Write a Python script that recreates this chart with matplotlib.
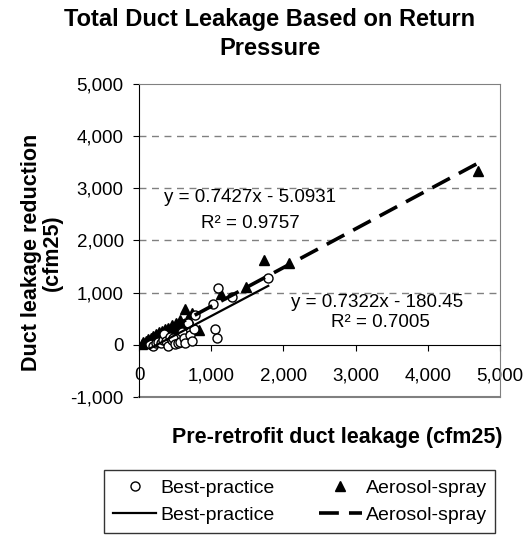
import matplotlib
matplotlib.use('Agg')
import matplotlib.pyplot as plt
from matplotlib.lines import Line2D

plt.rcParams['font.family'] = ['Liberation Sans', 'DejaVu Sans']

# best-practice retrofits (open circles)
bp_pre = [150, 200, 230, 260, 300, 330, 350, 380, 400, 430, 450, 470, 500, 540, 570,
          600, 620, 640, 680, 700, 730, 760, 775, 1025, 1050, 1080, 1095, 1290, 1790]
bp_red = [10, -20, 40, 60, 30, 90, 200, 70, -30, 150, 90, 130, 20, 40, 60,
          250, 130, 40, 420, 180, 75, 300, 575, 790, 310, 135, 1095, 925, 1290]

# aerosol-spray retrofits (filled triangles)
as_pre = [40, 60, 80, 100, 110, 130, 150, 170, 190, 200, 220, 240, 260, 280, 300, 320,
          340, 360, 380, 400, 430, 460, 480, 510, 540, 570, 600, 640, 680, 735, 830,
          1135, 1480, 1730, 2080, 4690]
as_red = [20, 50, 30, 80, 60, 120, 90, 140, 110, 170, 150, 200, 180, 240, 200, 260,
          230, 300, 250, 320, 290, 380, 330, 420, 360, 470, 400, 690, 520, 615, 290,
          980, 1100, 1635, 1560, 3340]

# linear trend lines as reported on the chart
bp_slope, bp_icpt, bp_r2 = 0.7322, -180.45, 0.7005
as_slope, as_icpt, as_r2 = 0.7427, -5.0931, 0.9757

x_ticks = [0, 1000, 2000, 3000, 4000, 5000]
y_ticks = [-1000, 0, 1000, 2000, 3000, 4000, 5000]

grey = '#808080'

fig = plt.figure(figsize=(5.29, 5.39), dpi=100)
ax = fig.add_axes([0.2628, 0.2635, 0.6824, 0.5807])

# gridlines
for yv in y_ticks[2:-1]:
    ax.axhline(yv, color=grey, lw=1, dashes=(5, 4), zorder=0)

ax.plot(as_pre, as_red, linestyle='none', marker='^', ms=6.5, color='black', zorder=3)
ax.plot(bp_pre, bp_red, linestyle='none', marker='o', ms=6.5, mfc='white', mec='black',
        mew=1, zorder=4)

bx = [min(bp_pre), max(bp_pre)]
ax.plot(bx, [bp_slope * v + bp_icpt for v in bx], color='black', lw=1.6, zorder=5)
axx = [min(as_pre), max(as_pre)]
ax.plot(axx, [as_slope * v + as_icpt for v in axx], color='black', lw=2.6,
        dashes=(5.5, 2.8), zorder=5)

ax.text(1540, 2830, 'y = %.4fx - %.4f' % (as_slope, -as_icpt), ha='center', va='center', fontsize=13.5)
ax.text(1540, 2330, 'R² = %.4f' % as_r2, ha='center', va='center', fontsize=13.5)
ax.text(3300, 810, 'y = %.4fx - %.2f' % (bp_slope, -bp_icpt), ha='center', va='center', fontsize=13.5)
ax.text(3340, 420, 'R² = %.4f' % bp_r2, ha='center', va='center', fontsize=13.5)

ax.set_xlim(0, 5000)
ax.set_ylim(-1000, 5000)
ax.spines['bottom'].set_position(('data', 0))
ax.spines['left'].set_color('black')
ax.spines['bottom'].set_color('black')
ax.spines['top'].set_color(grey)
ax.spines['right'].set_color(grey)
ax.axhline(-1000, color=grey, lw=1.5, clip_on=False)

ax.set_xticks(x_ticks)
ax.set_xticklabels(['{:,}'.format(v) for v in x_ticks])
ax.set_yticks(y_ticks)
ax.set_yticklabels(['{:,}'.format(v) for v in y_ticks])
ax.tick_params(axis='x', direction='out', length=4, pad=12, labelsize=13.5)
ax.tick_params(axis='y', direction='out', length=4, pad=7, labelsize=13.5)

fig.text(0.51, 0.937, 'Total Duct Leakage Based on Return\nPressure', ha='center', va='center',
         fontsize=17, fontweight='bold', linespacing=1.38)
fig.text(0.637, 0.189, 'Pre-retrofit duct leakage (cfm25)', ha='center', va='center',
         fontsize=15.5, fontweight='bold')
fig.text(0.080, 0.531, 'Duct leakage reduction\n(cfm25)', ha='center', va='center',
         rotation=90, fontsize=15.5, fontweight='bold', linespacing=1.0)

handles = [
    Line2D([], [], linestyle='none', marker='o', ms=6.5, mfc='white', mec='black'),
    Line2D([], [], color='black', lw=1.6),
    Line2D([], [], linestyle='none', marker='^', ms=6.5, color='black'),
    Line2D([], [], color='black', lw=2.6, dashes=(5.5, 2.8)),
]
labels = ['Best-practice', 'Best-practice', 'Aerosol-spray', 'Aerosol-spray']
leg = fig.legend(handles, labels, ncol=2, loc='center', bbox_to_anchor=(0.567, 0.0696),
                 fontsize=14, frameon=True, fancybox=False, edgecolor='black',
                 handlelength=2.2, handletextpad=0.2, columnspacing=2.3,
                 borderpad=0.45, labelspacing=0.5)
leg.get_frame().set_linewidth(1)

fig.savefig('out.png', dpi=100)
